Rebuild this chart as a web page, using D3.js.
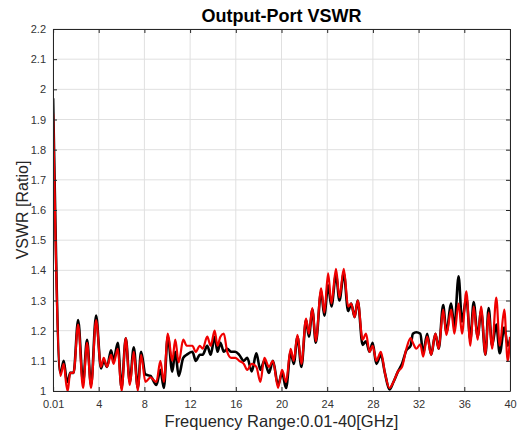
<!DOCTYPE html>
<html>
<head>
<meta charset="utf-8">
<script src="https://cdn.jsdelivr.net/npm/d3@7"></script>
<style>
  body { margin: 0; background: #fff; }
  svg { display: block; font-family: "Liberation Sans", Arial, Helvetica, sans-serif; }
</style>
</head>
<body>
<svg id="chart"></svg>
<script>
// frequency points (GHz)
let freq = [0.01, 0.65, 0.94, 1.17, 1.29, 1.5, 1.8, 2.2, 2.63, 2.98, 3.33, 3.77, 4.2, 4.44, 4.73, 5.08, 5.3, 5.67,
  6.0, 6.37, 6.72, 7.07, 7.42, 7.71, 8.09, 8.53, 9.05, 9.4, 9.7, 10.05, 10.44, 10.7, 11.0, 11.4, 11.7, 12.2, 12.5,
  12.85, 13.1, 13.5, 13.8, 14.15, 14.4, 14.65, 14.95, 15.25, 15.6, 15.95, 16.3, 16.7, 17.0, 17.4, 17.8, 18.15, 18.5,
  18.9, 19.25, 19.7, 20.05, 20.4, 20.8, 21.07, 21.4, 21.74, 22.15, 22.4, 22.7, 23.0, 23.47, 23.75, 24.08, 24.37,
  24.77, 25.07, 25.45, 25.83, 26.1, 26.4, 26.67, 27.1, 27.4, 27.7, 27.98, 28.3, 28.7, 29.05, 29.45, 29.8, 30.2,
  30.55, 30.93, 31.3, 31.5, 31.8, 32.15, 32.4, 32.75, 33.1, 33.47, 33.76, 34.15, 34.43, 34.85, 35.13, 35.5, 35.8,
  36.18, 36.53, 36.82, 37.17, 37.47, 37.85, 38.13, 38.43, 38.8, 39.1, 39.5, 39.8, 40];

// black trace
let vswrBlack = [1.97, 1.06, 1.10, 1.04, 1.03, 1.06, 1.06, 1.235, 1.03, 1.17, 1.02, 1.25, 1.075, 1.10, 1.08, 1.135, 1.10, 1.16,
  1.01, 1.175, 1.03, 1.145, 1.01, 1.13, 1.055, 1.05, 1.02, 1.07, 1.01, 1.18, 1.064, 1.13, 1.05, 1.11, 1.12, 1.13, 1.10,
  1.12, 1.12, 1.15, 1.12, 1.18, 1.13, 1.16, 1.13, 1.14, 1.13, 1.13, 1.12, 1.10, 1.11, 1.065, 1.125, 1.07, 1.10,
  1.06, 1.10, 1.02, 1.06, 1.01, 1.13, 1.09, 1.18, 1.08, 1.235, 1.18, 1.27, 1.16, 1.33, 1.25, 1.35, 1.28,
  1.385, 1.30, 1.39, 1.265, 1.29, 1.245, 1.30, 1.153, 1.165, 1.13, 1.16, 1.09, 1.12, 1.06, 1.005, 1.03, 1.065,
  1.09, 1.135, 1.15, 1.19, 1.195, 1.19, 1.125, 1.19, 1.12, 1.19, 1.14, 1.285, 1.195, 1.29, 1.21, 1.38, 1.23,
  1.31, 1.17, 1.295, 1.18, 1.265, 1.12, 1.275, 1.15, 1.22, 1.125, 1.21, 1.15, 1.17];

// red trace
let vswrRed = [1.92, 1.05, 1.09, 1.02, 1.00, 1.06, 1.06, 1.22, 1.01, 1.16, 1.01, 1.235, 1.08, 1.11, 1.08, 1.12, 1.09, 1.14,
  1.00, 1.175, 1.02, 1.13, 1.00, 1.12, 1.03, 1.045, 1.03, 1.10, 1.03, 1.19, 1.10, 1.17, 1.095, 1.17, 1.15, 1.15, 1.13,
  1.15, 1.14, 1.18, 1.15, 1.20, 1.15, 1.18, 1.19, 1.13, 1.11, 1.11, 1.10, 1.09, 1.07, 1.09, 1.08, 1.03, 1.11,
  1.08, 1.10, 1.01, 1.07, 1.03, 1.14, 1.10, 1.186, 1.09, 1.24, 1.19, 1.275, 1.165, 1.34, 1.26, 1.39, 1.29,
  1.405, 1.31, 1.405, 1.28, 1.29, 1.245, 1.30, 1.17, 1.19, 1.13, 1.15, 1.10, 1.13, 1.06, 1.01, 1.03, 1.065,
  1.08, 1.14, 1.175, 1.16, 1.14, 1.155, 1.114, 1.18, 1.12, 1.19, 1.14, 1.27, 1.185, 1.27, 1.19, 1.29, 1.19,
  1.33, 1.15, 1.28, 1.17, 1.28, 1.12, 1.26, 1.14, 1.31, 1.15, 1.27, 1.10, 1.18];

let xTicks = [0.01, 4, 8, 12, 16, 20, 24, 28, 32, 36, 40];
let yTicks = [1, 1.1, 1.2, 1.3, 1.4, 1.5, 1.6, 1.7, 1.8, 1.9, 2, 2.1, 2.2];

let width = 517, height = 436;
let margin = {top: 29, right: 7, bottom: 45, left: 53};
let plotW = width - margin.left - margin.right;
let plotH = height - margin.top - margin.bottom;

let svg = d3.select("#chart")
  .attr("width", width)
  .attr("height", height)
  .attr("viewBox", [0, 0, width, height]);

let x = d3.scaleLinear().domain([0, 40]).range([0, plotW]);
let y = d3.scaleLinear().domain([1, 2.2]).range([plotH, 0]);

let g = svg.append("g").attr("transform", `translate(${margin.left},${margin.top})`);

svg.append("defs").append("clipPath").attr("id", "plotClip")
  .append("rect").attr("width", plotW).attr("height", plotH);

// grid
g.append("g")
  .selectAll("line.vg")
  .data(xTicks)
  .join("line")
  .attr("x1", d => x(d)).attr("x2", d => x(d))
  .attr("y1", 0).attr("y2", plotH)
  .attr("stroke", "#e0e0e0").attr("stroke-width", 1);
g.append("g")
  .selectAll("line.hg")
  .data(yTicks)
  .join("line")
  .attr("x1", 0).attr("x2", plotW)
  .attr("y1", d => y(d)).attr("y2", d => y(d))
  .attr("stroke", "#e0e0e0").attr("stroke-width", 1);

// traces
let line = (vals) => d3.line()
  .x((d, i) => x(freq[i]))
  .y(d => y(d))
  .curve(d3.curveMonotoneX)(vals);

let traces = g.append("g").attr("clip-path", "url(#plotClip)");
traces.append("path")
  .attr("d", line(vswrBlack))
  .attr("fill", "none")
  .attr("stroke", "#000")
  .attr("stroke-width", 2.6)
  .attr("stroke-linejoin", "round");
traces.append("path")
  .attr("d", line(vswrRed))
  .attr("fill", "none")
  .attr("stroke", "#f00000")
  .attr("stroke-width", 2.2)
  .attr("stroke-linejoin", "round");

// axes, MATLAB-like box with inward ticks
let tickFmt = d => d === 0.01 ? "0.01" : d3.format("~g")(d);
let axisStyle = sel => {
  sel.select(".domain").attr("stroke", "#262626");
  sel.selectAll(".tick line").attr("stroke", "#262626");
  sel.selectAll(".tick text").attr("fill", "#333").attr("font-size", 11)
    .attr("font-family", "'Liberation Sans', Arial, sans-serif");
};

g.append("g").attr("transform", `translate(0,${plotH})`)
  .call(d3.axisBottom(x).tickValues(xTicks).tickFormat(tickFmt).tickSizeInner(-4).tickSizeOuter(0).tickPadding(9))
  .call(axisStyle);
g.append("g")
  .call(d3.axisTop(x).tickValues(xTicks).tickFormat("").tickSizeInner(-4).tickSizeOuter(0))
  .call(axisStyle);
g.append("g")
  .call(d3.axisLeft(y).tickValues(yTicks).tickFormat(d3.format("~g")).tickSizeInner(-4).tickSizeOuter(0).tickPadding(7))
  .call(axisStyle);
g.append("g").attr("transform", `translate(${plotW},0)`)
  .call(d3.axisRight(y).tickValues(yTicks).tickFormat("").tickSizeInner(-4).tickSizeOuter(0))
  .call(axisStyle);

// titles
svg.append("text")
  .attr("x", margin.left + plotW / 2)
  .attr("y", 22)
  .attr("text-anchor", "middle")
  .attr("font-size", 18)
  .attr("font-weight", "bold")
  .attr("fill", "#000")
  .text("Output-Port VSWR");

svg.append("text")
  .attr("x", margin.left + plotW / 2)
  .attr("y", 427)
  .attr("text-anchor", "middle")
  .attr("font-size", 16.5)
  .attr("fill", "#262626")
  .text("Frequency Range:0.01-40[GHz]");

svg.append("text")
  .attr("transform", `translate(28,${margin.top + plotH / 2}) rotate(-90)`)
  .attr("text-anchor", "middle")
  .attr("font-size", 16)
  .attr("fill", "#262626")
  .text("VSWR [Ratio]");
</script>
</body>
</html>
